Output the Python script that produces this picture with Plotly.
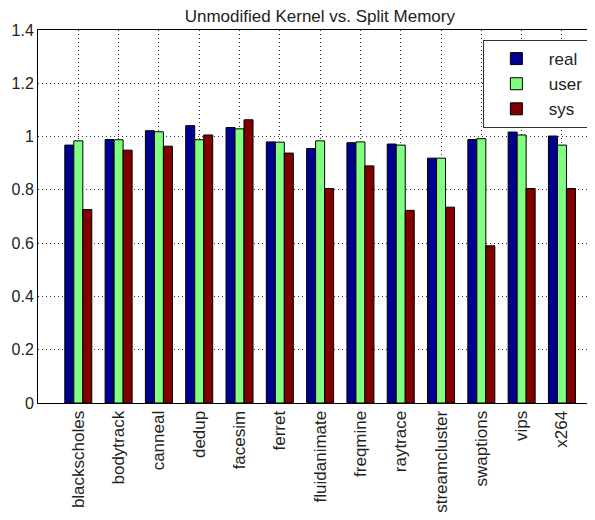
import plotly.graph_objects as go

categories = ["blackscholes", "bodytrack", "canneal", "dedup", "facesim", "ferret",
              "fluidanimate", "freqmine", "raytrace", "streamcluster", "swaptions",
              "vips", "x264"]
real = [0.968, 0.989, 1.022, 1.041, 1.034, 0.980, 0.955, 0.977, 0.972, 0.919, 0.989, 1.017, 1.002]
user = [0.984, 0.988, 1.018, 0.988, 1.029, 0.979, 0.984, 0.980, 0.968, 0.919, 0.992, 1.006, 0.968]
sys_ = [0.726, 0.949, 0.964, 1.006, 1.063, 0.938, 0.805, 0.890, 0.723, 0.735, 0.590, 0.805, 0.805]
y_ticks = [0, 0.2, 0.4, 0.6, 0.8, 1.0, 1.2, 1.4]
y_ticklabels = ["0", "0.2", "0.4", "0.6", "0.8", "1", "1.2", "1.4"]

series = [("real", real, "#00008F"), ("user", user, "#80FF80"), ("sys", sys_, "#800000")]

fig = go.Figure()
for name, vals, color in series:
    fig.add_trace(go.Bar(
        x=categories, y=vals, name=name,
        marker=dict(color=color, line=dict(color="#000000", width=1)),
    ))

FONT = "Liberation Sans, Arial, sans-serif"
# page body adds an 8px offset; the figure is sized to fill the rest of the window
fig.update_layout(
    width=587, height=512,
    margin=dict(l=30, r=0, t=22, b=117, autoexpand=False),
    paper_bgcolor="white", plot_bgcolor="white",
    barmode="group", bargap=0.33, bargroupgap=0.0,
    font=dict(family=FONT, size=16, color="#222222"),
    title=dict(text="Unmodified Kernel vs. Split Memory", x=0.506, xref="paper",
               xanchor="center", y=1 - 8 / 512, yref="container", yanchor="middle",
               font=dict(family=FONT, size=17, color="#222222")),
    showlegend=True,
    legend=dict(x=0.989, xanchor="right", y=0.973, yanchor="top",
                bgcolor="white", bordercolor="#333333", borderwidth=1,
                font=dict(family=FONT, size=17, color="#222222"),
                itemwidth=55, tracegroupgap=0),
    xaxis=dict(
        type="category", range=[-1, 12.82], automargin=False,
        tickangle=-90, showline=True, linecolor="#000000", linewidth=1,
        mirror=True, ticks="", showgrid=True, gridcolor="#333333",
        gridwidth=1, griddash="1px,3px",
        tickfont=dict(family=FONT, size=17, color="#222222"),
    ),
    yaxis=dict(
        range=[0, 1.4], tickvals=y_ticks, ticktext=y_ticklabels, automargin=False,
        showline=True, linecolor="#000000", linewidth=1, mirror=False,
        ticks="", showgrid=True, gridcolor="#333333", gridwidth=1,
        griddash="1px,3px", zeroline=False,
        tickfont=dict(family=FONT, size=16, color="#222222"),
    ),
)

fig.write_html("out.html")
